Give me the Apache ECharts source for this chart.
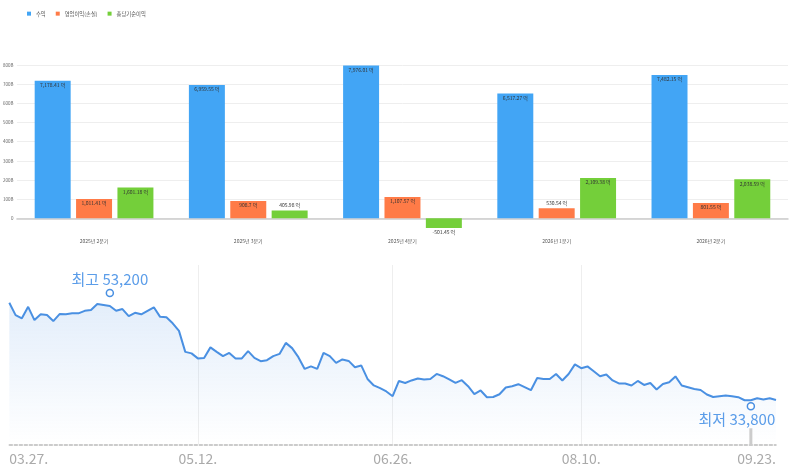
<!DOCTYPE html>
<html><head><meta charset="utf-8">
<script src="https://cdn.jsdelivr.net/npm/echarts@6/dist/echarts.min.js"></script>
<style>html,body{margin:0;padding:0;background:#fff}#c{width:800px;height:473px}</style>
</head><body><div id="c"></div>
<script>
// ---- bar chart data (단위: 억) ----
const quarters = ['2025년 2분기', '2025년 3분기', '2025년 4분기', '2026년 1분기', '2026년 2분기'];
const revenue = [7178.41, 6959.55, 7976.01, 6517.27, 7482.15];
const operatingProfit = [1011.41, 908.7, 1107.57, 530.54, 801.55];
const netIncome = [1601.18, 405.98, -501.45, 2109.38, 2038.59];
const seriesNames = ['수익', '영업이익(손실)', '총당기순이익'];

// ---- price line data ----
const priceCloses = [
  53250, 50800, 50150, 52450, 49800, 50950, 50800, 49600, 51000, 50950,
  51150, 51150, 51650, 51800, 53000, 52800, 52600, 51650, 52000, 50600,
  51250, 50950, 51650, 52350, 50450, 50350, 49150, 47650, 43450, 43150,
  42150, 42250, 44350, 43450, 42600, 43250, 42150, 42150, 43600, 42250,
  41600, 41800, 42600, 43050, 45250, 44200, 42400, 40050, 40550, 40050,
  43250, 42600, 41250, 41950, 41650, 40400, 40750, 38050, 36750, 36200,
  35550, 34600, 37650, 37250, 37750, 38150, 37950, 38050, 39050, 38600,
  37950, 37250, 37800, 36600, 35000, 35750, 34400, 34450, 35000, 36350,
  36600, 37000, 36400, 35800, 38250, 38050, 38050, 39050, 37750, 39050,
  40950, 40200, 40550, 39600, 38600, 38950, 37750, 37150, 37150, 36750,
  37650, 36850, 37250, 35950, 37050, 37400, 38550, 36750, 36400, 36050,
  35850, 34950, 34450, 34600, 34750, 34600, 34400, 33800, 33800, 34200,
  33950, 34200, 33850
];
const priceTickIndex = [0, 30, 61, 91, 122];
const priceTickLabels = ['03.27.', '05.12.', '06.26.', '08.10.', '09.23.'];
const priceHighIndex = 16, priceHighValue = 53200, priceHighText = '최고 53,200';
const priceLowIndex = 118, priceLowValue = 33800, priceLowText = '최저 33,800';

const FONT = '"Noto Sans CJK KR", "Noto Sans", sans-serif';
const BLUE = '#42A5F5', ORANGE = '#FF7B47', GREEN = '#74CF3A';
const LINE = '#4a90e2';

const fmt = v => v.toLocaleString('en-US', {maximumFractionDigits: 2}) + ' 억';
function barItems(arr) {
  return arr.map(v => ({
    value: v,
    label: {
      position: v < 0 ? 'bottom' : (v < 700 ? 'top' : 'insideTop'),
      distance: v < 0 ? 2 : (v < 700 ? 3 : 2)
    }
  }));
}
const barLabel = {
  show: true, fontSize: 5, color: '#333', fontFamily: FONT,
  formatter: p => fmt(p.value)
};

const tickMap = {};
priceTickIndex.forEach((i, k) => tickMap[i] = priceTickLabels[k]);
const gridLineIdx = priceTickIndex.slice(1, -1);

const chart = echarts.init(document.getElementById('c'));
chart.setOption({
  animation: false,
  legend: {
    data: seriesNames, left: 22, top: 6, itemWidth: 4, itemHeight: 4, itemGap: 10,
    icon: 'rect', textStyle: {fontSize: 5.3, color: '#555', fontFamily: FONT}
  },
  grid: [
    {left: 16, right: 12, top: 65, bottom: 254.7},
    {left: 9.3, right: 24, top: 265, bottom: 28.7}
  ],
  xAxis: [
    {
      type: 'category', data: quarters, gridIndex: 0,
      axisLine: {lineStyle: {color: '#cccccc', width: 1.5}},
      axisTick: {show: false},
      axisLabel: {fontSize: 5, color: '#555', margin: 20, fontFamily: FONT}
    },
    {
      type: 'category', gridIndex: 1, boundaryGap: false,
      data: priceCloses.map((_, i) => String(i)),
      axisLine: {lineStyle: {color: '#bbbbbb', width: 1.5, type: [3, 2]}},
      axisTick: {show: false},
      axisLabel: {
        interval: (i) => tickMap[i] !== undefined,
        formatter: (v, i) => tickMap[i] || '',
        fontSize: 14, color: '#aaaaaa', margin: 7, fontFamily: FONT,
        alignMinLabel: 'left', alignMaxLabel: 'right'
      },
      splitLine: {
        show: true, interval: (i) => gridLineIdx.indexOf(i) >= 0,
        lineStyle: {color: '#eeeeee', width: 1}
      }
    }
  ],
  yAxis: [
    {
      type: 'value', gridIndex: 0, min: 0, max: 8000, interval: 1000,
      axisLine: {show: false}, axisTick: {show: false},
      axisLabel: {fontSize: 4.5, color: '#666', margin: 3.5, fontFamily: FONT,
        formatter: v => v === 0 ? '0' : (v / 10) + 'B'},
      splitLine: {lineStyle: {color: '#eeeeee', width: 1}}
    },
    {
      type: 'value', gridIndex: 1, min: 25000, max: 60800, show: false,
      splitLine: {show: false}
    }
  ],
  series: [
    {name: seriesNames[0], type: 'bar', xAxisIndex: 0, yAxisIndex: 0, clip: false,
     barGap: '15%', barCategoryGap: '23%', itemStyle: {color: BLUE},
     label: barLabel, data: barItems(revenue)},
    {name: seriesNames[1], type: 'bar', xAxisIndex: 0, yAxisIndex: 0, clip: false,
     itemStyle: {color: ORANGE}, label: barLabel, data: barItems(operatingProfit)},
    {name: seriesNames[2], type: 'bar', xAxisIndex: 0, yAxisIndex: 0, clip: false,
     itemStyle: {color: GREEN}, label: barLabel, data: barItems(netIncome)},
    {
      name: '주가', type: 'line', xAxisIndex: 1, yAxisIndex: 1,
      data: priceCloses, symbol: 'none', smooth: false,
      lineStyle: {color: LINE, width: 2},
      itemStyle: {color: LINE},
      areaStyle: {
        color: new echarts.graphic.LinearGradient(0, 0, 0, 1, [
          {offset: 0, color: 'rgba(74,144,226,0.22)'},
          {offset: 1, color: 'rgba(74,144,226,0)'}
        ])
      },
      markPoint: {
        silent: true,
        data: [
          {coord: [priceHighIndex, priceHighValue], symbol: 'circle', symbolSize: 7,
           symbolOffset: [0, -10],
           itemStyle: {color: '#fff', borderColor: LINE, borderWidth: 1.5},
           label: {show: true, position: 'top', distance: 2, formatter: priceHighText,
             fontSize: 15, color: '#5b9de9', fontFamily: FONT}},
          {coord: [priceLowIndex, priceLowValue], symbol: 'circle', symbolSize: 7,
           symbolOffset: [0, 6],
           itemStyle: {color: '#fff', borderColor: LINE, borderWidth: 1.5},
           label: {show: true, position: 'bottom', distance: 1, offset: [-14, 0],
             formatter: priceLowText, fontSize: 15, color: '#5b9de9', fontFamily: FONT}},
          {coord: [priceLowIndex, 25000], symbol: 'rect', symbolSize: [3, 16],
           symbolOffset: [0, -8], itemStyle: {color: '#cccccc'}, label: {show: false}}
        ]
      }
    }
  ]
});
</script>
</body></html>
